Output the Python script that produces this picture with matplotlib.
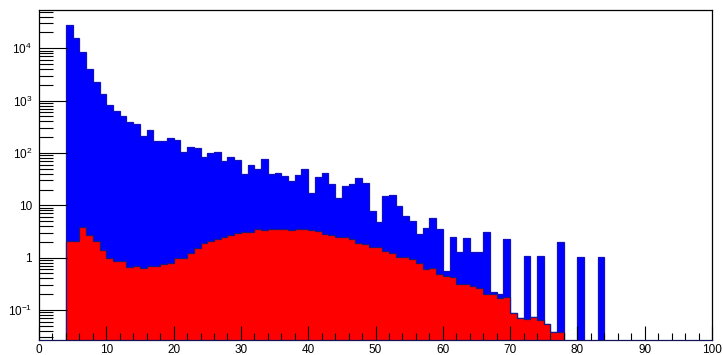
import numpy as np
import matplotlib
matplotlib.use("Agg")
import matplotlib.pyplot as plt
from matplotlib.ticker import FixedLocator, LogLocator, NullFormatter, FixedFormatter

plt.rcParams['font.family'] = ['Liberation Sans', 'DejaVu Sans']
plt.rcParams['mathtext.fontset'] = 'custom'
plt.rcParams['mathtext.rm'] = 'Liberation Sans'
plt.rcParams['mathtext.it'] = 'Liberation Sans'

# ---- data (bins of width 1 from 0 to 100) ----
bin_edges = list(range(0, 101))

total_counts = [
    0, 0, 0, 0, 27900, 15500, 8400, 4020, 2240, 1340,
    830, 645, 509, 396, 363, 214, 272, 167, 167, 193,
    177, 106, 129, 123, 85, 99, 103, 71, 83, 73,
    39, 60, 49, 76, 40, 41, 36, 29, 38, 49,
    17, 34, 41, 25, 14, 23, 25, 33, 27, 7.8,
    4.8, 15, 16, 9.6, 6.3, 5.1, 2.8, 3.7, 5.7, 3.5,
    0.55, 2.45, 1.3, 2.35, 1.3, 1.27, 3.1, 0.22, 0.2, 2.25,
    0.089, 0.071, 1.08, 0.074, 1.08, 0.054, 0.038, 2.0, 0, 0,
    1.02, 0, 0, 1.02, 0, 0, 0, 0, 0, 0,
    0, 0, 0, 0, 0, 0, 0, 0, 0, 0,
]

signal_counts = [
    0, 0, 0, 0, 2.08, 2.08, 3.8, 2.7, 2.1, 1.4,
    1.0, 0.88, 0.88, 0.65, 0.68, 0.64, 0.68, 0.68, 0.76, 0.78,
    1.0, 1.0, 1.21, 1.51, 1.88, 2.08, 2.28, 2.52, 2.7, 3.0,
    3.14, 3.14, 3.54, 3.43, 3.5, 3.6, 3.5, 3.43, 3.5, 3.5,
    3.34, 3.2, 2.8, 2.68, 2.52, 2.45, 2.28, 1.94, 1.83, 1.58,
    1.58, 1.34, 1.21, 1.02, 1.05, 0.93, 0.80, 0.60, 0.64, 0.49,
    0.45, 0.42, 0.31, 0.32, 0.29, 0.26, 0.20, 0.20, 0.17, 0.18,
    0.088, 0.071, 0.066, 0.074, 0.063, 0.054, 0.038, 0.038, 0, 0,
    0, 0, 0, 0, 0, 0, 0, 0, 0, 0,
    0, 0, 0, 0, 0, 0, 0, 0, 0, 0,
]

x_tick_values = [0, 10, 20, 30, 40, 50, 60, 70, 80, 90, 100]
y_tick_values = [0.1, 1, 10, 100, 1000, 10000]
y_tick_labels = [r'$10^{-1}$', '1', '10', r'$10^{2}$', r'$10^{3}$', r'$10^{4}$']

# ---- figure ----
W, H = 723, 355
fig = plt.figure(figsize=(W / 100, H / 100), dpi=100)
ax = fig.add_axes([39 / W, 15 / H, (712 - 39) / W, (340 - 9.5) / H])

ymin, ymax = 0.0267, 55000
base = 1e-6
edges = np.array(bin_edges, dtype=float)
tot = np.array(total_counts, dtype=float)
sig = np.array(signal_counts, dtype=float)
tot_plot = np.where(tot > 0, tot, base)
sig_plot = np.where(sig > 0, sig, base)

ax.stairs(tot_plot, edges, baseline=base, fill=True, color='#0000ff', lw=0)
ax.stairs(tot_plot, edges, baseline=None, fill=False, color='#1010c0', lw=0.9)
ax.stairs(sig_plot, edges, baseline=base, fill=True, color='#ff0000', lw=0)
ax.stairs(sig_plot, edges, baseline=None, fill=False, color='#1a1a80', lw=0.9)

ax.set_yscale('log')
ax.set_xlim(0, 100)
ax.set_ylim(ymin, ymax)

ax.xaxis.set_major_locator(FixedLocator(x_tick_values))
ax.xaxis.set_minor_locator(FixedLocator(list(range(0, 101, 2))))
ax.yaxis.set_major_locator(FixedLocator(y_tick_values))
ax.yaxis.set_major_formatter(FixedFormatter(y_tick_labels))
ax.yaxis.set_minor_locator(LogLocator(base=10, subs=(2, 3, 4, 5, 6, 7, 8, 9), numticks=20))
ax.yaxis.set_minor_formatter(NullFormatter())

ax.tick_params(axis='x', which='major', direction='in', length=10, width=0.8,
               top=False, labelsize=8.5, pad=3)
ax.tick_params(axis='x', which='minor', direction='in', length=5, width=0.8, top=False)
ax.tick_params(axis='y', which='major', direction='in', length=20, width=0.8,
               right=False, labelsize=8.5, pad=5)
ax.tick_params(axis='y', which='minor', direction='in', length=10, width=0.8, right=False)

for s in ax.spines.values():
    s.set_linewidth(0.9)
    s.set_color('black')
ax.spines['bottom'].set_color('#14145a')

fig.savefig('out.png', dpi=100)
